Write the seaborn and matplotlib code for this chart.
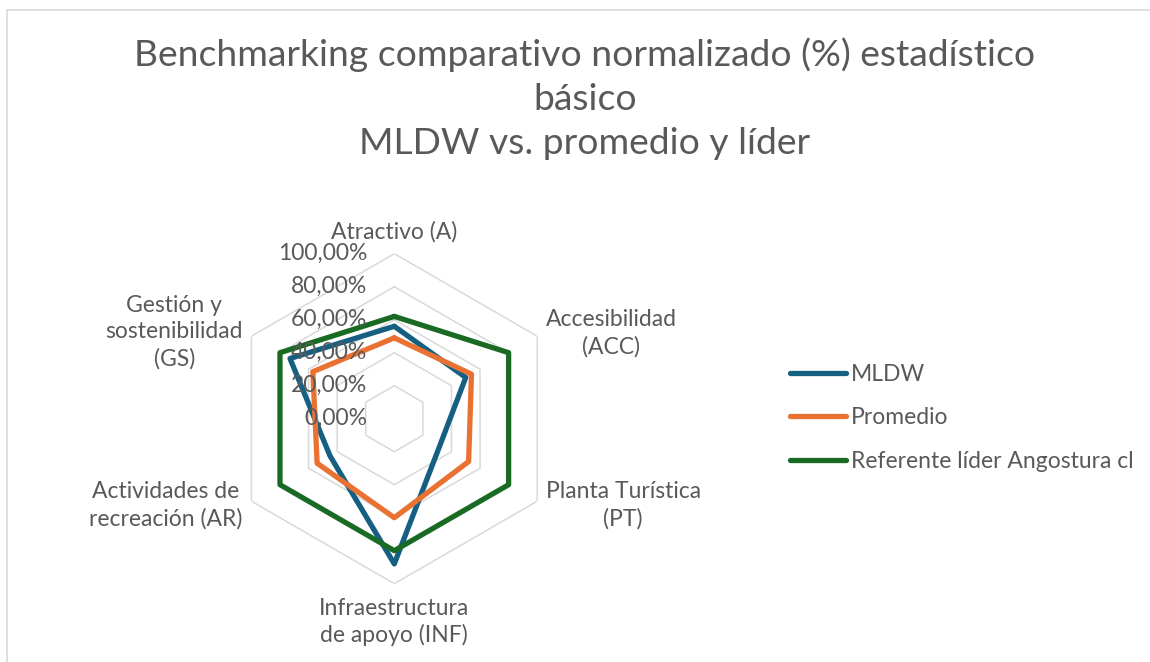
import numpy as np
import pandas as pd
import seaborn as sns
import matplotlib.pyplot as plt
from matplotlib.lines import Line2D

# --- datos ---
categorias = [
    "Atractivo (A)",
    "Accesibilidad\n(ACC)",
    "Planta Turística\n(PT)",
    "Infraestructura\nde apoyo (INF)",
    "Actividades de\nrecreación (AR)",
    "Gestión y\nsostenibilidad\n(GS)",
]
series = ["MLDW", "Promedio", "Referente líder Angostura cl"]
mldw = [56, 50, 32, 88, 45, 73]
promedio = [49, 54, 52, 60, 54, 57]
referente = [62, 80, 80, 80, 80, 80]
ticks = [0, 20, 40, 60, 80, 100]
tick_labels = ["0,00%", "20,00%", "40,00%", "60,00%", "80,00%", "100,00%"]
titulo = "Benchmarking comparativo normalizado (%) estadístico\nbásico\nMLDW vs. promedio y líder"

colores = ["#156082", "#E97132", "#196B24"]
gris_txt = "#595959"
gris_grid = "#D9D9D9"
fs = 16.5

sns.set_theme(style="white")
plt.rcParams["font.family"] = ["Lato", "DejaVu Sans"]

W, H = 1150, 662
fig = plt.figure(figsize=(W / 100, H / 100), dpi=100)

# borde del área del gráfico
fig.add_artist(Line2D([7 / W, 7 / W], [0, 1 - 10 / H], transform=fig.transFigure, color=gris_grid, lw=1.2))
fig.add_artist(Line2D([7 / W, 1], [1 - 10 / H, 1 - 10 / H], transform=fig.transFigure, color=gris_grid, lw=1.2))

# ejes polares (centro y radio medidos en px)
cx, cy, rad = 394.3, 418.7, 165
ax = fig.add_axes([(cx - rad) / W, 1 - (cy + rad) / H, 2 * rad / W, 2 * rad / H], projection="polar")
ax.set_theta_zero_location("N")
ax.set_theta_direction(-1)
ax.set_ylim(0, 100)
ax.grid(False)
ax.spines["polar"].set_visible(False)
ax.set_xticks([])
ax.set_yticks([])
ax.patch.set_alpha(0)

n = len(categorias)
ang = np.linspace(0, 2 * np.pi, n + 1)

# rejilla hexagonal
for r in ticks[1:]:
    ax.plot(ang, [r] * (n + 1), color=gris_grid, lw=1.1, zorder=1)

# datos en formato largo (polígonos cerrados)
valores = {"MLDW": mldw, "Promedio": promedio, "Referente líder Angostura cl": referente}
filas = []
for s in series:
    v = valores[s]
    for i in range(n + 1):
        filas.append({"serie": s, "theta": ang[i], "valor": v[i % n]})
df = pd.DataFrame(filas)

sns.lineplot(data=df, x="theta", y="valor", hue="serie", hue_order=series,
             palette=colores, sort=False, estimator=None, lw=3.8, legend=False, ax=ax, zorder=3)
ax.set_xlabel("")
ax.set_ylabel("")

# etiquetas de la escala
for r, lab in zip(ticks, tick_labels):
    ax.annotate(lab, xy=(0, r), xytext=(-19.5, 0), textcoords="offset points",
                ha="right", va="center", fontsize=fs, color=gris_txt,
                annotation_clip=False, zorder=5)

# etiquetas de categoría
offs = [(0, 8, "center", "bottom"), (6, 2, "left", "center"), (6, -3, "left", "center"),
        (0, -10, "center", "top"), (-6.5, -3, "right", "center"), (-6, 3, "right", "center")]
for i, lab in enumerate(categorias):
    dx, dy, ha, va = offs[i]
    ax.annotate(lab, xy=(ang[i], 100), xytext=(dx, dy), textcoords="offset points",
                ha=ha, va=va, multialignment="center", fontsize=fs, color=gris_txt,
                annotation_clip=False, linespacing=1.32)

# título
fig.text(585 / W, 1 - 37 / H, titulo, ha="center", va="top", fontsize=26.8,
         color=gris_txt, linespacing=1.42)

# leyenda
handles = [Line2D([], [], color=c, lw=3.8, solid_capstyle="round") for c in colores]
fig.legend(handles, series, loc="center left", bbox_to_anchor=(790 / W, 1 - 418 / H),
           frameon=False, fontsize=fs, handlelength=2.45, handletextpad=0.2,
           labelspacing=0.98, labelcolor=gris_txt, borderaxespad=0, borderpad=0)

fig.savefig("out.png", dpi=100)
